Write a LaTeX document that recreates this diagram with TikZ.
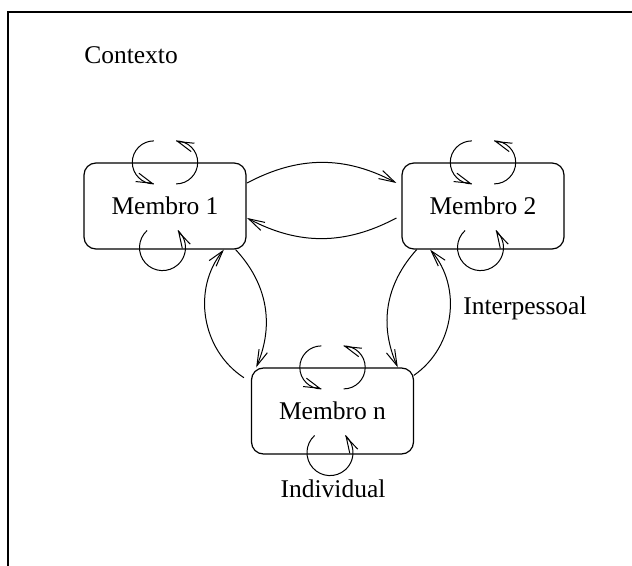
\documentclass[tikz,border=0pt]{standalone}
\usepackage{fontspec}
\setmainfont{Liberation Serif}
\usetikzlibrary{arrows.meta,calc}
\begin{document}
\begin{tikzpicture}[x=0.5pt,y=0.5pt,
  member/.style={draw, rounded corners=6pt, minimum width=81pt, minimum height=43pt,
    inner sep=0pt, line width=0.6pt, font=\fontsize{12.75}{15}\selectfont},
  lbl/.style={inner sep=0pt, font=\fontsize{12.75}{15}\selectfont},
  wire/.style={line width=0.5pt},
  flow/.style={wire, -{Straight Barb[length=8pt,width=4.5pt]}},
]
\useasboundingbox (0,0) rectangle (632,-566);
% context frame
\draw[line width=0.6pt] (8,-566) -- (8,-12) -- (632,-12);
\node[lbl, anchor=base] (ctx) at (131,-63.5) {Contexto};

% members
\node[member] (m1) at (165,-206) {Membro 1};
\node[member] (m2) at (483,-206) {Membro 2};
\node[member] (mn) at (332.5,-411) {Membro n};

% individual loops on each member: two half circles on top, one circle below;
% each head is set along the chord of its last stretch of arc
\foreach \n in {m1,m2,mn} {
  \coordinate (\n-lc) at ([shift={(-5.6pt,0pt)}]\n.north);
  \coordinate (\n-rc) at ([shift={(5.6pt,0pt)}]\n.north);
  \coordinate (\n-bc) at ([shift={(-1.25pt,1pt)}]\n.south);
  % left half circle, running down
  \draw[wire] ([shift={(90:10.75pt)}]\n-lc) arc[start angle=90, end angle=270, radius=10.75pt];
  \coordinate (\n-lt) at ([shift={(270:10.75pt)}]\n-lc);
  \coordinate (\n-lb) at ([shift={(227:10.75pt)}]\n-lc);
  \draw[flow] ($(\n-lt)!0.15!(\n-lb)$) -- (\n-lt);
  % right half circle, running up
  \draw[wire] ([shift={(-90:10.75pt)}]\n-rc) arc[start angle=-90, end angle=90, radius=10.75pt];
  \coordinate (\n-rt) at ([shift={(90:10.75pt)}]\n-rc);
  \coordinate (\n-rb) at ([shift={(47:10.75pt)}]\n-rc);
  \draw[flow] ($(\n-rt)!0.15!(\n-rb)$) -- (\n-rt);
  % circle below
  \draw[wire] ([shift={(132:11.5pt)}]\n-bc) arc[start angle=132, end angle=408, radius=11.5pt];
  \coordinate (\n-bt) at ([shift={(48:11.5pt)}]\n-bc);
  \coordinate (\n-bb) at ([shift={(8:11.5pt)}]\n-bc);
  \draw[flow] ($(\n-bt)!0.15!(\n-bb)$) -- (\n-bt);
}

% interpersonal exchanges
\draw[flow] ([shift={(0.25pt,11.5pt)}]m1.east) to[bend left=28] ([shift={(-2.5pt,11.5pt)}]m2.west);
\draw[flow] ([shift={(-2.5pt,-6pt)}]m2.west) to[bend left=28] ([shift={(0.25pt,-6pt)}]m1.east);
\draw[flow] ([shift={(-3.5pt,-5.15pt)}]mn.north west) to[bend left=48] ([shift={(-11.35pt,0pt)}]m1.south east);
\draw[flow] ([shift={(-5.5pt,0pt)}]m1.south east) to[bend left=33] ([shift={(2.65pt,0pt)}]mn.north west);
\draw[flow] ([shift={(7.65pt,0pt)}]m2.south west) to[bend right=33] ([shift={(-8.15pt,0pt)}]mn.north east);
\draw[flow] ([shift={(-0.15pt,-4pt)}]mn.north east) to[bend right=48] ([shift={(14.35pt,0pt)}]m2.south west);

\node[lbl, anchor=base west] (inter) at (463,-315) {Interpessoal};
\node[lbl, anchor=base] (indiv) at (333,-497.5) {Individual};
\end{tikzpicture}
\end{document}
